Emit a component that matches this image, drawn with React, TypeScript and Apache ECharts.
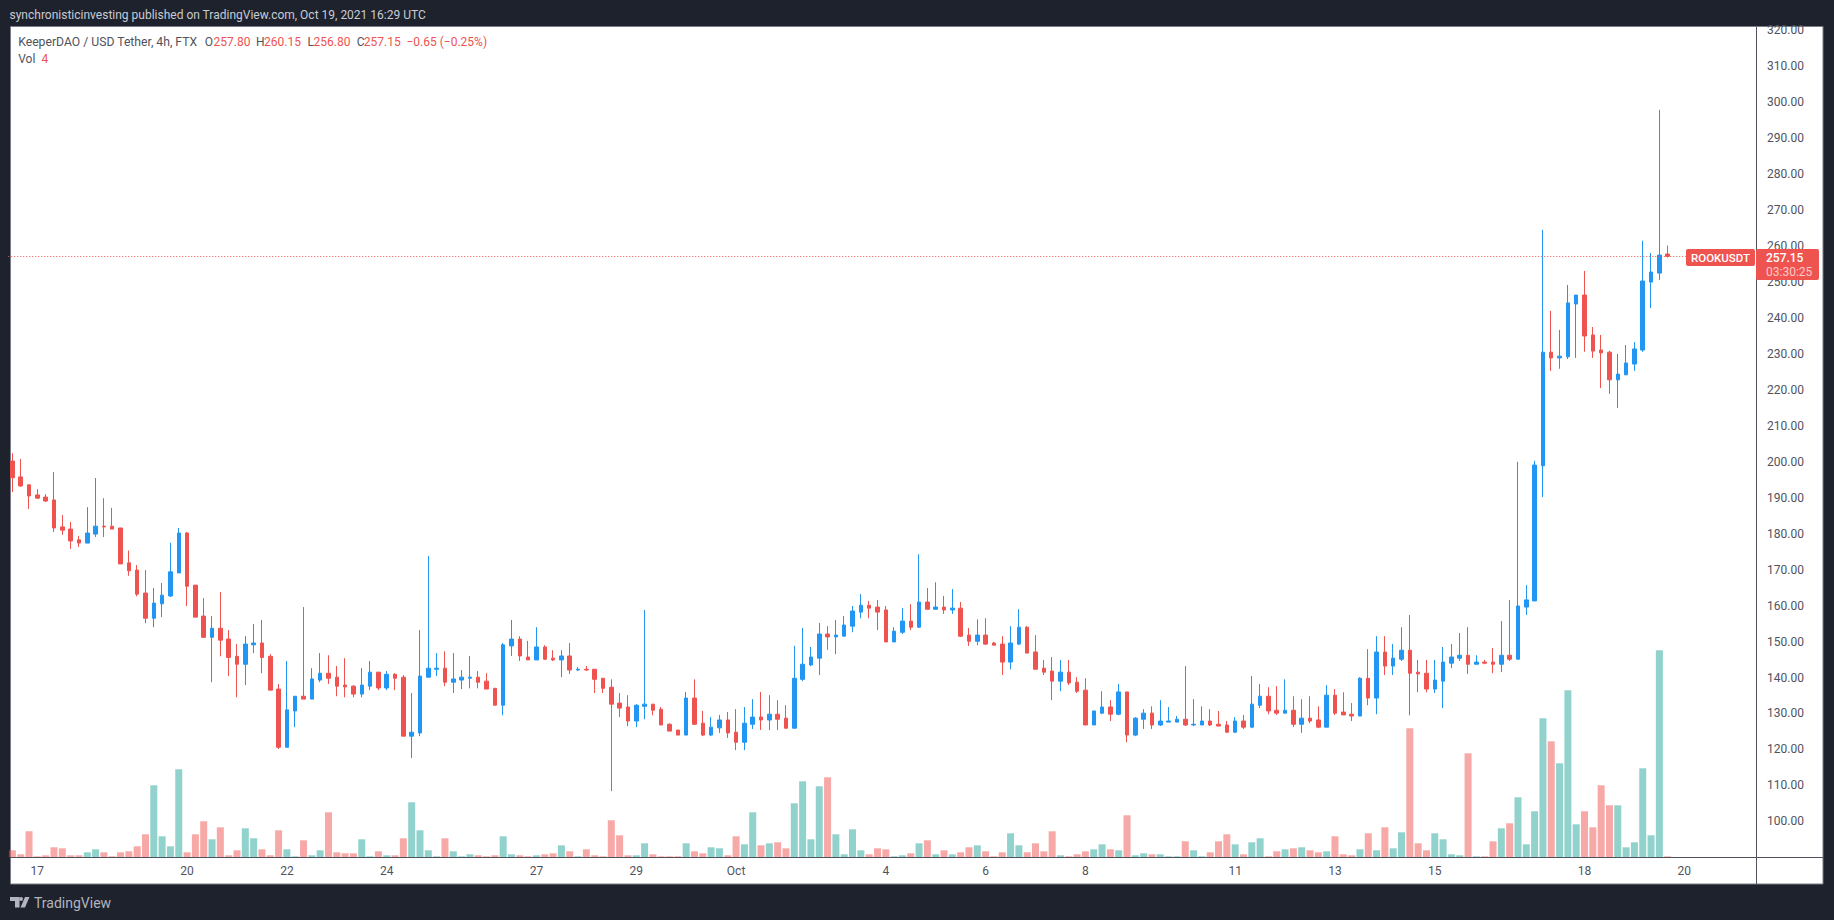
import React, { useEffect, useRef } from "react";
import * as echarts from "echarts";

const opens = [
  200.2,195.8,193.6,190.8,190.2,189.4,181.9,181.3,178.3,177.4,
  179.9,182.1,182.1,181.6,171.9,169.9,163.5,156.5,160.5,162.7,
  169.1,180.2,165.7,157.1,151.2,153.7,150.7,145.9,143.7,149.1,
  149.6,145.9,136.8,120.6,130.7,134.8,134,139.3,141.2,140.1,
  137.9,137.6,135.4,137.6,141.5,137.1,140.9,140.1,123.7,124.6,
  140.1,142.3,142.6,138.7,139.3,139.8,140.1,139,137,132.3,
  148.8,150.7,145.7,144.9,148.5,145.4,144.9,146,142.1,142.3,
  142.3,139.8,137.3,132.9,131.8,127.9,132,132.6,131.2,127,
  125.4,124,134.3,127.3,124,126,128.2,124.8,122,127,
  129,128.2,129.8,128.7,125.9,139.5,143.5,145.4,152.1,151.3,
  151.5,154.3,158.2,160.1,159.6,158.8,149.9,152.6,155.7,154,
  161,159,159.6,158.8,159.3,151.8,150.1,151.8,149.6,149.3,
  144.3,149.3,154,147.1,142.6,141.8,139,141.5,138.7,136.5,
  126.8,130.1,131.8,129.8,136,124,128.4,130.1,126.8,127.6,
  127.6,128.4,126.8,126.8,127.9,127,126.8,124.8,127.9,126.2,
  132.3,134.8,130.9,130.1,130.9,127,128.7,128.2,126.2,135.1,
  130.4,129.8,129.3,139.8,134.3,147.1,143.2,145.1,147.6,141.5,
  141.2,136.8,139,144,145.4,146.2,143.7,144.3,144.3,143.7,
  146.2,145.1,159.6,161.3,198.9,230.5,228.9,229.2,243.9,246.4,
  235.3,231.1,230.5,222.8,224.2,227.2,231.1,250,252.5,257.8,
];
const closes = [
  195.6,193.3,190.5,189.9,189.1,181.6,181,178,177.4,180.2,
  182.1,181.9,181.3,171.6,169.7,163.2,156.5,160.7,162.9,169.4,
  180.2,165.4,156.8,151.2,153.7,150.4,145.6,143.7,149.3,149.6,
  145.6,136.5,120.6,131,134.8,134,139.6,141.2,139.8,137.6,
  137.4,135.4,137.9,141.5,137.1,140.9,139.8,123.7,124.8,140.4,
  142.6,142.6,138.7,139.6,140.1,140.1,138.7,136.8,132.3,149.1,
  150.7,146,144.9,148.5,145.1,144.9,146,142.1,142.3,142.1,
  139.5,137,132.6,131.5,127.9,132.3,132.6,130.9,126.8,125.1,
  124,134.3,127,124,126.2,128.2,124.6,122,127.3,129,
  128.2,129.8,128.4,125.9,139.8,143.7,145.7,152.1,151.3,151.8,
  154.6,158.5,160.1,159.3,158.2,149.9,152.9,155.7,154,161,
  159,159.6,158.8,159.3,151.5,150.1,151.8,149.3,149,144.3,
  149.6,154,146.8,142.3,141.5,139,141.5,138.5,136.2,126.8,
  130.7,131.8,129.8,136,124,128.7,130.1,126.8,127.9,127.9,
  128.4,126.8,127,127.9,126.8,126.5,124.8,127.9,126.2,132.6,
  134.8,130.7,130.1,130.9,127,128.7,127.9,126.2,135.1,130.1,
  129.6,129.3,139.8,134.3,147.1,143.2,145.4,147.6,141.2,141,
  136.8,139.3,144.3,145.7,146.2,143.7,144.3,144,143.7,146.2,
  145.1,159.9,161.6,199.1,230.5,228.9,229.4,244.2,246.4,235,
  230.8,230.3,222.8,224.4,227.5,231.4,250.3,252.8,257.5,257.15,
];
const highs = [
  202.4,200.8,193.6,192.4,191,197.2,185.2,183.3,179.4,187.4,
  195.5,189.9,187.2,181.6,175.3,171.3,169.9,164.9,166.3,177.5,
  181.6,180.5,165.7,162.1,157.1,163.8,153.2,149.3,151.5,154.9,
  156,146.5,138.2,144.6,134.8,159.6,142.6,146.8,146.2,143.2,
  145.4,137.9,142.6,144.6,141.5,141.8,141.2,140.7,135.7,153.2,
  173.8,146.8,147.3,146.8,142.1,146,141.8,141.2,137,149.6,
  156,151.5,150.2,154,149,147.6,147.6,149.6,142.9,143.2,
  142.3,139.8,139.5,135.7,135.1,132.6,158.8,132.6,131.8,127.3,
  125.4,136,139.5,130.7,129,129.6,130.4,131.2,131.8,134,
  136,135.1,133.7,132.3,148.8,153.8,148.5,155.2,154.3,156,
  157.1,159.9,163.2,161.3,161.6,159.9,154,159.3,160.4,174.3,
  164.9,166.5,162.7,164.6,161,153.8,156.2,156.5,149.9,151.5,
  154.3,159,154.3,151.8,144.9,145.7,144.9,144.9,140.1,139.8,
  130.7,136.2,133.7,138.2,136,129,131.2,132,133.7,131.8,
  129.3,143.2,134,132,131.2,130.7,127.9,129,129.6,140.4,
  138.2,137.3,137.6,139.5,134.8,134,134.8,132,137.9,136.8,
  135.9,132.9,140.1,147.9,151.5,151.5,149.3,154,157.4,144.9,
  144.9,144.9,148.5,149.3,152.4,154,146.2,144.9,148.2,155.7,
  161.6,200,165.7,200.3,264.5,242,236.7,249.2,246.4,253.1,
  237.5,235.3,230.9,230,232.5,233.3,261.5,258.1,297.9,260.15,
];
const lows = [
  191.6,193,186.9,189.7,188.8,180.5,179.7,175.8,176.3,177.4,
  179.1,179.1,181.3,171.6,168.3,162.6,155.1,154,156.8,162.4,
  169.1,159.9,156.8,151,138.7,145.9,140.4,134.5,137.9,146.8,
  141.2,136.5,120.1,120.6,126.2,134,134,138.7,138.2,134.8,
  134.5,134.5,134.5,136.5,136.5,136.5,136.5,123.7,117.6,123.7,
  140.1,140.4,137.6,135.7,136.8,137,137,136.8,132.3,129.5,
  146,144.6,144.9,144.9,144.9,144.6,140.1,141,141.8,141.8,
  135.7,135.7,108.4,129,126.5,126.2,128.4,129.5,126.8,125.1,
  124,124,126.8,123.7,123.7,124.6,123.2,119.8,119.8,125.7,
  125.4,125.4,125.4,125.9,125.9,139,143.2,140.7,147.7,146.5,
  151.5,152.6,156.5,156.5,153.2,149.9,149.9,152.1,153.2,153.8,
  159,159,157.7,157.7,151.3,148.8,149,149,149,140.7,
  142.3,149,146.8,142.3,140.7,133.7,136.2,137.9,135.7,126.8,
  126.8,129.8,127.9,129.5,122,123.7,125.7,125.7,126.5,127.6,
  127.6,126.5,126.5,126.8,126.5,126.5,124.6,124.6,125.7,125.9,
  131.5,129.8,129.6,130.1,126.2,124.6,127.3,125.9,126.2,129.6,
  129.6,127.9,129.3,132.3,129.8,140.7,140.7,144.6,129.5,135.9,
  135.9,135.7,131.5,142.6,144.6,141,143.7,143.7,141.2,141.5,
  144.6,145.1,157.4,161.3,190.2,225.3,225.9,228.6,228.9,230.6,
  228.9,220.5,218.9,215,224.2,225.3,230.6,242.8,250.6,256.8,
];
const volumes = [
  28,12,104,4,8,40,36,8,8,20,
  32,20,4,20,24,44,92,288,84,44,
  352,20,92,144,72,120,8,28,116,76,
  32,8,108,32,4,68,8,28,180,20,
  16,16,72,4,24,8,8,76,220,108,
  28,4,76,24,4,12,8,4,8,84,
  12,8,4,8,12,16,48,24,4,32,
  8,4,148,88,8,8,56,12,4,4,
  4,56,24,16,40,36,8,84,52,180,
  48,56,60,36,216,304,72,284,320,92,
  12,112,28,12,36,32,4,8,16,56,
  68,12,28,12,20,40,48,24,4,20,
  96,48,20,56,24,104,8,4,12,24,
  32,52,32,28,168,8,16,12,12,4,
  4,64,28,4,20,64,92,52,12,60,
  76,4,24,32,36,40,28,20,24,84,
  12,8,32,96,28,120,36,100,516,56,
  28,96,72,12,8,416,4,4,64,116,
  136,240,52,184,556,464,376,668,132,184,
  120,288,208,208,40,60,356,88,828,4,
];
// bar index -> date label on the time axis
const dateTicks: Record<number, string> = {
  3: "17", 21: "20", 33: "22", 45: "24", 63: "27", 75: "29", 87: "Oct",
  105: "4", 117: "6", 129: "8", 147: "11", 159: "13", 171: "15", 189: "18", 201: "20",
};
const lastClose = 257.15;

const RED = "#ef5350";
const BLUE = "#2196f3";
const TEXT = "#50535e";
const BG = "#1e222d";
const FONT = "Roboto, 'Liberation Sans', sans-serif";

const TOTAL_BANDS = 210;
const categories = Array.from({ length: TOTAL_BANDS }, (_, i) => dateTicks[i] ?? `b${i}`);

const LOGO_D = "M0 0H9.5V10.5H5V4H0Z M13 2A1.9 1.9 0 1 0 9.2 2A1.9 1.9 0 1 0 13 2Z M15 0H19.5L15 10.5H10.5Z";
echarts.graphic.registerShape("tvlogo", echarts.graphic.extendPath(LOGO_D, {}) as any);

function label(x: number, y: number, text: string, fill: string, size = 12, extra: any = {}) {
  return {
    type: "text",
    x,
    y,
    z: 20,
    style: { text, fill, fontSize: size, fontFamily: FONT, verticalAlign: "middle", align: "left", ...extra },
  };
}

export default function App() {
  const ref = useRef<HTMLDivElement>(null);
  useEffect(() => {
    document.body.style.margin = "0";
    const chart = echarts.init(ref.current!, null, { renderer: "svg" });
    const candle = opens.map((o, i) => [o, closes[i], lows[i], highs[i]]);
    const vol = volumes.map((v, i) => ({
      value: v,
      itemStyle: { color: closes[i] >= opens[i] ? "rgba(38,166,154,0.5)" : "rgba(239,83,80,0.5)" },
    }));
    chart.setOption({
      animation: false,
      backgroundColor: BG,
      grid: [
        { left: 8.24, top: 27, width: 1746.8, height: 830.3 },
        { left: 8.24, top: 27, width: 1746.8, height: 830.3 },
      ],
      xAxis: [
        {
          type: "category",
          gridIndex: 0,
          data: categories,
          boundaryGap: true,
          axisLine: { show: false },
          axisTick: { show: false },
          splitLine: { show: false },
          axisLabel: {
            interval: (i: number) => dateTicks[i] !== undefined,
            color: TEXT,
            fontSize: 12,
            fontFamily: FONT,
            margin: 8,
          },
        },
        { type: "category", gridIndex: 1, data: categories, show: false },
      ],
      yAxis: [
        {
          type: "value",
          gridIndex: 0,
          position: "right",
          min: 90,
          max: 320.95,
          interval: 10,
          axisLine: { show: false },
          axisTick: { show: false },
          splitLine: { show: false },
          axisLabel: {
            color: TEXT,
            fontSize: 12,
            fontFamily: FONT,
            margin: 12,
            formatter: (v: number) => (v >= 100 && v % 10 === 0 ? v.toFixed(2) : ""),
          },
        },
        { type: "value", gridIndex: 1, min: 0, max: 3321, show: false },
      ],
      series: [
        {
          type: "bar",
          xAxisIndex: 1,
          yAxisIndex: 1,
          data: vol,
          barWidth: 7,
          z: 2,
        },
        {
          type: "candlestick",
          xAxisIndex: 0,
          yAxisIndex: 0,
          data: candle,
          barWidth: 4,
          z: 3,
          itemStyle: { color: BLUE, color0: RED, borderColor: BLUE, borderColor0: RED, borderWidth: 1 },
          markLine: {
            silent: true,
            symbol: "none",
            label: { show: false },
            lineStyle: { color: RED, type: [1, 2], width: 1 },
            data: [{ yAxis: lastClose }],
          },
        },
      ],
      graphic: [
        { type: "rect", z: -1, shape: { x: 10.5, y: 26.5, width: 1812.5, height: 857.5 }, style: { fill: "#ffffff", stroke: "#7a7d87", lineWidth: 1 } },
        { type: "line", z: 10, shape: { x1: 1756.5, y1: 27, x2: 1756.5, y2: 884 }, style: { stroke: TEXT, lineWidth: 1 } },
        { type: "line", z: 10, shape: { x1: 10, y1: 857.5, x2: 1823, y2: 857.5 }, style: { stroke: TEXT, lineWidth: 1 } },
        label(9.5, 14.7, "synchronisticinvesting published on TradingView.com, Oct 19, 2021 16:29 UTC", "#c8cbd4", 12),
        label(18.2, 41.7, "KeeperDAO / USD Tether, 4h, FTX", TEXT, 12.2),
        label(204.8, 41.7, "O", TEXT), label(213.5, 41.7, "257.80", RED),
        label(256, 41.7, "H", TEXT), label(264, 41.7, "260.15", RED),
        label(307.6, 41.7, "L", TEXT), label(313.6, 41.7, "256.80", RED),
        label(356.7, 41.7, "C", TEXT), label(363.8, 41.7, "257.15", RED),
        label(406.5, 41.7, "\u22120.65 (\u22120.25%)", RED),
        label(18.2, 59, "Vol", TEXT), label(41.5, 59, "4", RED),
        { type: "rect", z: 15, shape: { x: 1686, y: 249, width: 69, height: 17, r: 2 }, style: { fill: RED } },
        { type: "rect", z: 15, shape: { x: 1756, y: 249, width: 63, height: 31, r: 2 }, style: { fill: RED } },
        label(1691, 257.7, "ROOKUSDT", "#ffffff", 11.5, { fontWeight: 500 }),
        label(1766, 257.7, "257.15", "#ffffff", 12, { fontWeight: 500 }),
        label(1766, 271.7, "03:30:25", "#fbc9c8", 12),
        { type: "tvlogo", x: 10, y: 897, z: 20, style: { fill: "#b2b5be" } },
        label(34, 902.7, "TradingView", "#b2b5be", 14),
      ],
    });
    return () => chart.dispose();
  }, []);
  return <div ref={ref} style={{ position: "fixed", left: 0, top: 0, width: 1834, height: 920 }} />;
}
